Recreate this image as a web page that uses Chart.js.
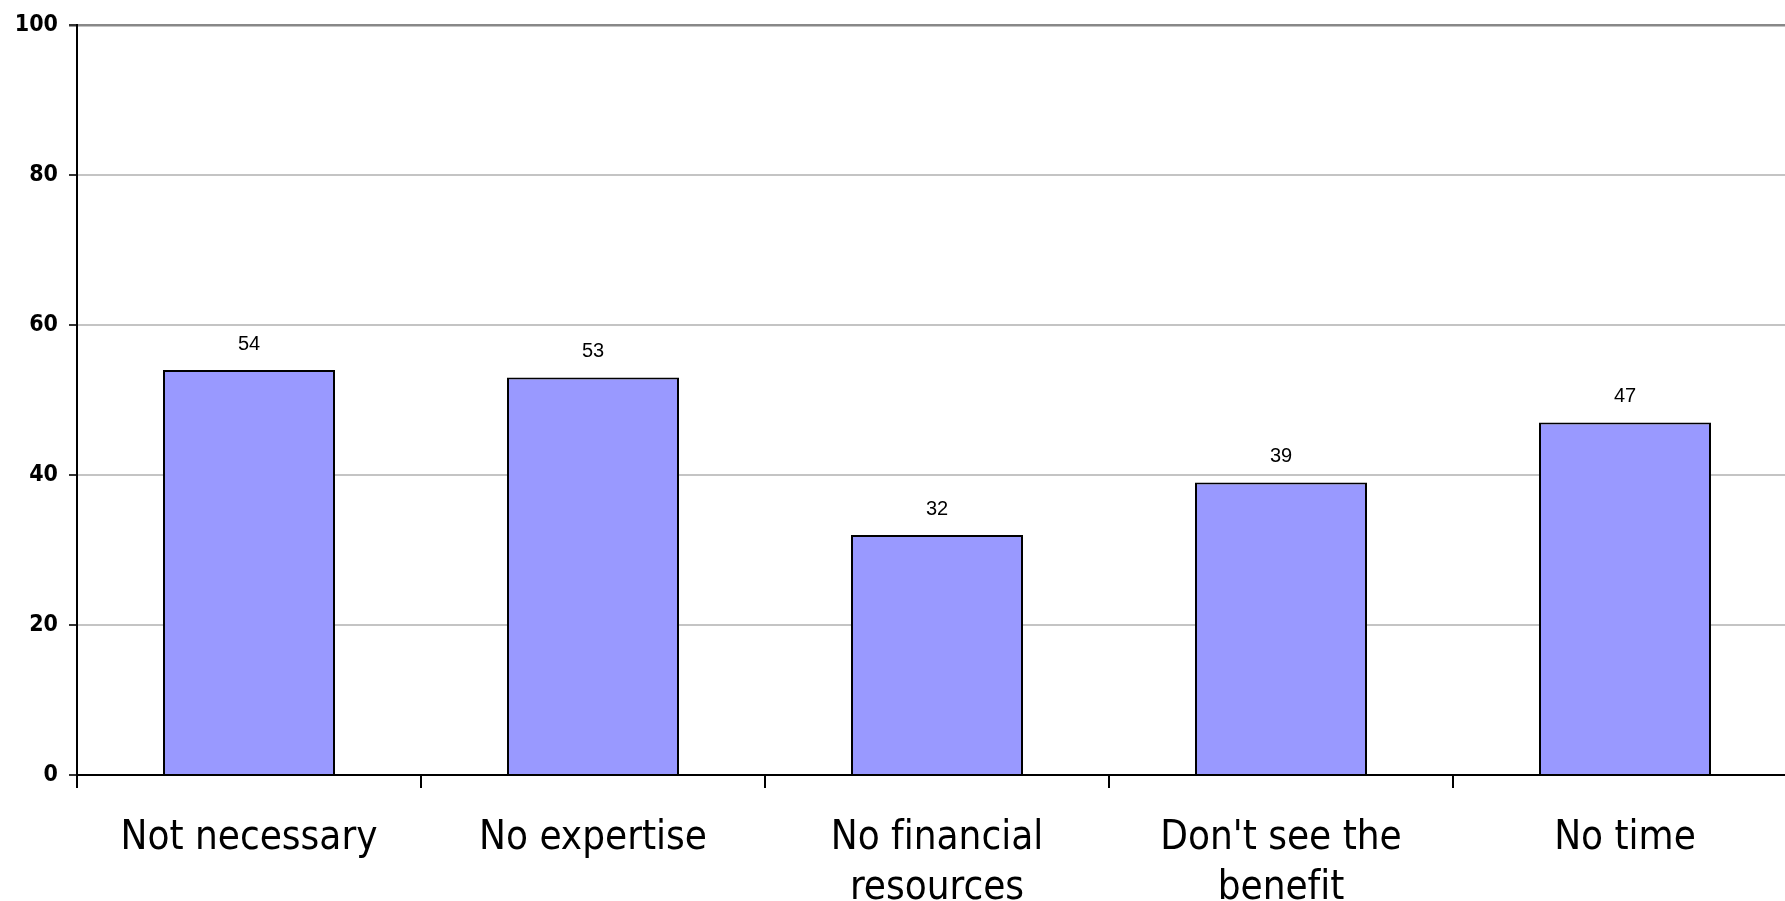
<!DOCTYPE html>
<html>
<head>
<meta charset="utf-8">
<script src="https://cdn.jsdelivr.net/npm/chart.js@4"></script>
<style>
  html, body { margin: 0; padding: 0; background: #fff; overflow: hidden; }
  #wrap { width: 1800px; height: 901px; }
</style>
</head>
<body>
<div id="wrap"><canvas id="myChart"></canvas></div>
<script>
// \u200C keeps "fi" from turning into a ligature, like the original
const categories = [
  "Not necessary",
  "No expertise",
  ["No f\u200Cinancial", "resources"],
  ["Don't see the", "benef\u200Cit"],
  "No time",
];
const values = [54, 53, 32, 39, 47];
const yTicks = [0, 20, 40, 60, 80, 100];

const valueLabels = {
  id: "valueLabels",
  afterDatasetsDraw(chart) {
    const ctx = chart.ctx;
    const meta = chart.getDatasetMeta(0);
    ctx.save();
    ctx.font = "20px 'Liberation Sans', Arial, sans-serif";
    ctx.fillStyle = "#000";
    ctx.textAlign = "center";
    ctx.textBaseline = "alphabetic";
    meta.data.forEach(function (bar, i) {
      ctx.fillText(String(values[i]), bar.x, bar.y - 20);
    });
    ctx.restore();
  },
};

const ctx = document.getElementById("myChart").getContext("2d");
const myChart = new Chart(ctx, {
  type: "bar",
  data: {
    labels: categories,
    datasets: [
      {
        data: values,
        backgroundColor: "#9999FF",
        borderColor: "#000",
        borderWidth: 2,
        barPercentage: 0.5,
        categoryPercentage: 1,
      },
    ],
  },
  plugins: [valueLabels],
  options: {
    responsive: true,
    maintainAspectRatio: false,
    animation: false,
    layout: { padding: { top: 23, right: 3, left: 0, bottom: 0 } },
    plugins: {
      legend: { display: false },
      tooltip: { enabled: false },
    },
    scales: {
      y: {
        min: 0,
        max: 100,
        afterBuildTicks: function (scale) {
          scale.ticks = yTicks.map(function (v) { return { value: v }; });
        },
        afterFit: function (scale) { scale.width = 77; },
        ticks: {
          color: "#000",
          padding: 11,
          font: { family: "'DejaVu Sans Condensed', 'DejaVu Sans'", size: 23, weight: "bold" },
        },
        grid: {
          color: function (c) { return c.tick && c.tick.value === 100 ? "#888888" : "#C4C4C4"; },
          lineWidth: function (c) { return c.tick && c.tick.value === 100 ? 2.5 : 2; },
          tickColor: "#333",
          tickLength: 8,
        },
        border: { color: "#000", width: 2 },
      },
      x: {
        afterFit: function (scale) { scale.height = 126; },
        ticks: {
          color: "#000",
          padding: 26,
          maxRotation: 0,
          font: { family: "'DejaVu Sans Condensed', 'DejaVu Sans'", size: 40, lineHeight: 1.25 },
        },
        grid: {
          offset: true,
          drawOnChartArea: false,
          tickColor: "#000",
          tickLength: 13,
          lineWidth: 2,
        },
        border: { color: "#000", width: 2 },
      },
    },
  },
});
</script>
</body>
</html>
